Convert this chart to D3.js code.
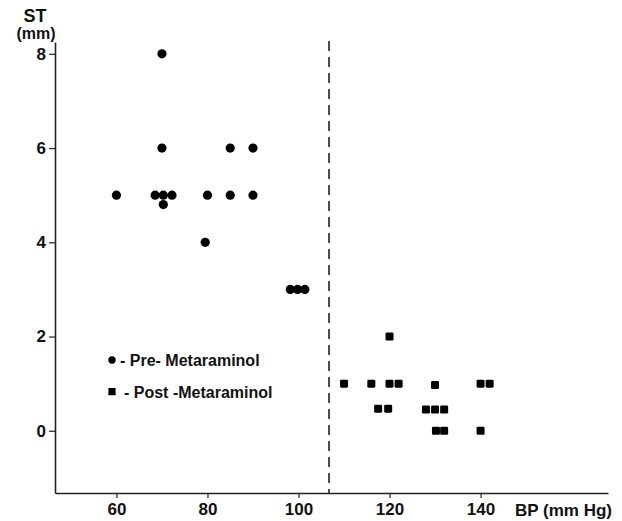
<!DOCTYPE html>
<html>
<head>
<meta charset="UTF-8">
<title>ST vs BP</title>
<script src="https://cdn.jsdelivr.net/npm/d3@7"></script>
<style>
  body { margin: 0; background: #fff; }
  text { font-family: "Liberation Sans", Arial, sans-serif; font-weight: bold; fill: #111; }
</style>
</head>
<body>
<script>
// pre-metaraminol (circles)
const preBP = [60, 70, 70, 68.5, 70.3, 72.2, 70.3, 80, 85, 90, 85, 90, 79.5, 98.2, 99.8, 101.4];
const preST = [5, 8, 6, 5, 5, 5, 4.8, 5, 6, 6, 5, 5, 4, 3, 3, 3];
// post-metaraminol (squares)
const postBP = [120, 110, 116, 120, 122, 130, 140, 142, 117.5, 119.7, 128, 130, 132, 130.2, 132, 140];
const postST = [2, 1, 1, 1, 1, 0.97, 1, 1, 0.47, 0.47, 0.45, 0.45, 0.45, 0, 0, 0];

const xTicks = [60, 80, 100, 120, 140];
const yTicks = [0, 2, 4, 6, 8];
const splitBP = 106.7;
const legendLabels = ["- Pre- Metaraminol", "- Post -Metaraminol"];

const W = 622, H = 521;
const svg = d3.select("body").append("svg").attr("width", W).attr("height", H);

const x = d3.scaleLinear().domain([46.5, 168]).range([55, 608]);
const y = d3.scaleLinear().domain([-1.32, 8.25]).range([493, 42]);

// axes
const gx = svg.append("g").attr("transform", "translate(0," + y.range()[0] + ")")
  .call(d3.axisBottom(x).tickValues(xTicks).tickSize(5).tickSizeOuter(0).tickPadding(5));
const gy = svg.append("g").attr("transform", "translate(" + x.range()[0] + ",0)")
  .call(d3.axisLeft(y).tickValues(yTicks).tickSize(6).tickSizeOuter(0).tickPadding(3));

[gx, gy].forEach(g => {
  g.select(".domain").attr("stroke", "#222").attr("stroke-width", 1.6);
  g.selectAll(".tick line").attr("stroke", "#222").attr("stroke-width", 1.2);
  g.selectAll(".tick text").style("font-size", "17px").attr("fill", "#111")
    .style("font-family", "'Liberation Sans', Arial, sans-serif").style("font-weight", "bold");
});

// dashed separator
svg.append("line")
  .attr("x1", x(splitBP)).attr("x2", x(splitBP))
  .attr("y1", y.range()[1] - 1).attr("y2", y.range()[0])
  .attr("stroke", "#222").attr("stroke-width", 1.6)
  .attr("stroke-dasharray", "10,6");

// points
svg.append("g").selectAll("circle")
  .data(preBP.map((b, i) => [b, preST[i]]))
  .join("circle")
  .attr("cx", d => x(d[0])).attr("cy", d => y(d[1]))
  .attr("r", 4.6).attr("fill", "#000");

const s = 8;
svg.append("g").selectAll("rect")
  .data(postBP.map((b, i) => [b, postST[i]]))
  .join("rect")
  .attr("x", d => x(d[0]) - s / 2).attr("y", d => y(d[1]) - s / 2)
  .attr("width", s).attr("height", s).attr("rx", 1.3)
  .attr("fill", "#000");

// axis titles
svg.append("text").attr("x", 35).attr("y", 22).attr("text-anchor", "middle")
  .style("font-size", "18px").text("ST");
svg.append("text").attr("x", 36).attr("y", 39).attr("text-anchor", "middle")
  .style("font-size", "16px").text("(mm)");
svg.append("text").attr("x", 612).attr("y", 516).attr("text-anchor", "end")
  .style("font-size", "17px").text("BP (mm Hg)");

// legend
const lg = svg.append("g").attr("transform", "translate(112,360)");
lg.append("circle").attr("cx", 0).attr("cy", 0).attr("r", 3.7).attr("fill", "#000");
lg.append("text").attr("x", 8).attr("y", 6).style("font-size", "16px").text(legendLabels[0]);
lg.append("rect").attr("x", -3.6).attr("y", 28).attr("width", 7.2).attr("height", 7.2).attr("fill", "#000");
lg.append("text").attr("x", 12).attr("y", 38).style("font-size", "16px").text(legendLabels[1]);
</script>
</body>
</html>
